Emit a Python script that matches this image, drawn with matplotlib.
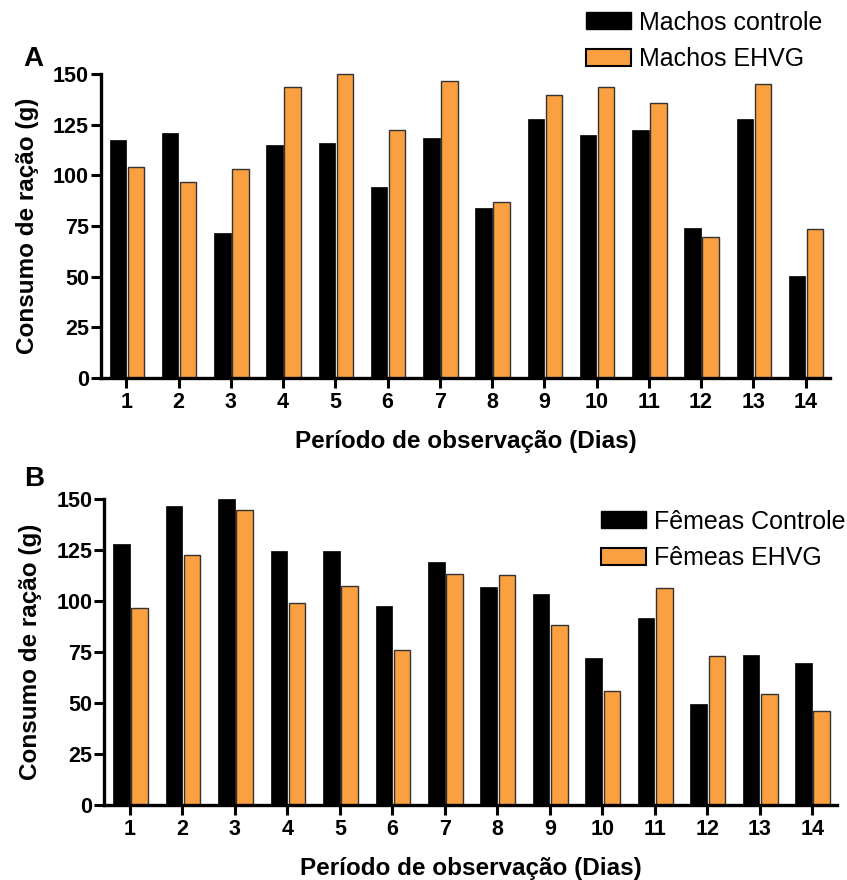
import matplotlib
matplotlib.use("Agg")
import matplotlib.pyplot as plt
import numpy as np
from matplotlib.patches import Patch

plt.rcParams['font.family'] = ['Liberation Sans', 'DejaVu Sans']

days = list(range(1, 15))
day_labels = [str(d) for d in days]

machos_controle = [117.5, 121.2, 71.5, 115.2, 116.0, 94.1, 118.6, 84.0, 128.1, 120.1, 122.4, 74.1, 127.8, 50.3]
machos_ehvg = [104.0, 96.6, 103.2, 143.9, 150.0, 122.6, 146.6, 86.9, 139.7, 143.6, 136.0, 69.7, 145.2, 73.4]

femeas_controle = [128.2, 146.9, 150.0, 124.6, 124.8, 97.5, 119.2, 106.8, 103.6, 72.1, 91.8, 49.8, 73.7, 69.8]
femeas_ehvg = [96.9, 122.9, 144.8, 99.2, 107.3, 76.0, 113.2, 112.7, 88.4, 55.9, 106.7, 73.2, 54.5, 46.0]

yticks = [0, 25, 50, 75, 100, 125, 150]

ORANGE = '#FBA041'
xlabel = 'Período de observação (Dias)'
ylabel = 'Consumo de ração (g)'

fig = plt.figure(figsize=(8.47, 8.80), dpi=100)

def panel(rect, ctrl, ehvg, labels, letter, letter_xy, leg_anchor):
    ax = fig.add_axes(rect)
    x = np.array(days, dtype=float)
    w = 0.315
    ax.bar(x - w / 2 - 0.005, ctrl, width=w, color='black', edgecolor='black', linewidth=0.5, label=labels[0])
    ax.bar(x + w / 2 + 0.025, ehvg, width=w, color=ORANGE, edgecolor='#333333', linewidth=1.0, label=labels[1])
    ax.set_xlim(0.51, 14.47)
    ax.set_ylim(0, 150.6)
    ax.set_yticks(yticks)
    ax.set_xticks(days)
    ax.set_xticklabels(day_labels)
    for s in ['top', 'right']:
        ax.spines[s].set_visible(False)
    for s in ['left', 'bottom']:
        ax.spines[s].set_linewidth(2.4)
    ax.spines['left'].set_bounds(0, 150)
    ax.tick_params(axis='both', direction='out', length=7.5, width=2.2, labelsize=15.5)
    ax.tick_params(axis='y', pad=1.0)
    ax.tick_params(axis='x', pad=2.5)
    for lab in ax.get_xticklabels() + ax.get_yticklabels():
        lab.set_fontweight('bold')
    ax.set_xlabel(xlabel, fontsize=17.5, fontweight='bold', labelpad=12)
    ax.set_ylabel(ylabel, fontsize=17.5, fontweight='bold', labelpad=10)
    fig.text(letter_xy[0], letter_xy[1], letter, fontsize=20, fontweight='bold', ha='center', va='center')
    handles = [Patch(facecolor='black', edgecolor='black'),
               Patch(facecolor=ORANGE, edgecolor='black', linewidth=1.5)]
    ax.legend(handles, labels, loc='upper left', bbox_to_anchor=leg_anchor,
              bbox_transform=fig.transFigure, frameon=False, fontsize=18,
              handlelength=1.8, handleheight=0.68, handletextpad=0.3,
              labelspacing=0.5, borderpad=0, borderaxespad=0)
    return ax

panel([0.119, 0.5705, 0.861, 0.3465], machos_controle, machos_ehvg,
      ['Machos controle', 'Machos EHVG'], 'A', (0.039, 0.933), (0.692, 0.988))
panel([0.123, 0.0852, 0.865, 0.3488], femeas_controle, femeas_ehvg,
      ['Fêmeas Controle', 'Fêmeas EHVG'], 'B', (0.040, 0.456), (0.710, 0.421))

fig.savefig('out.png', dpi=100)
